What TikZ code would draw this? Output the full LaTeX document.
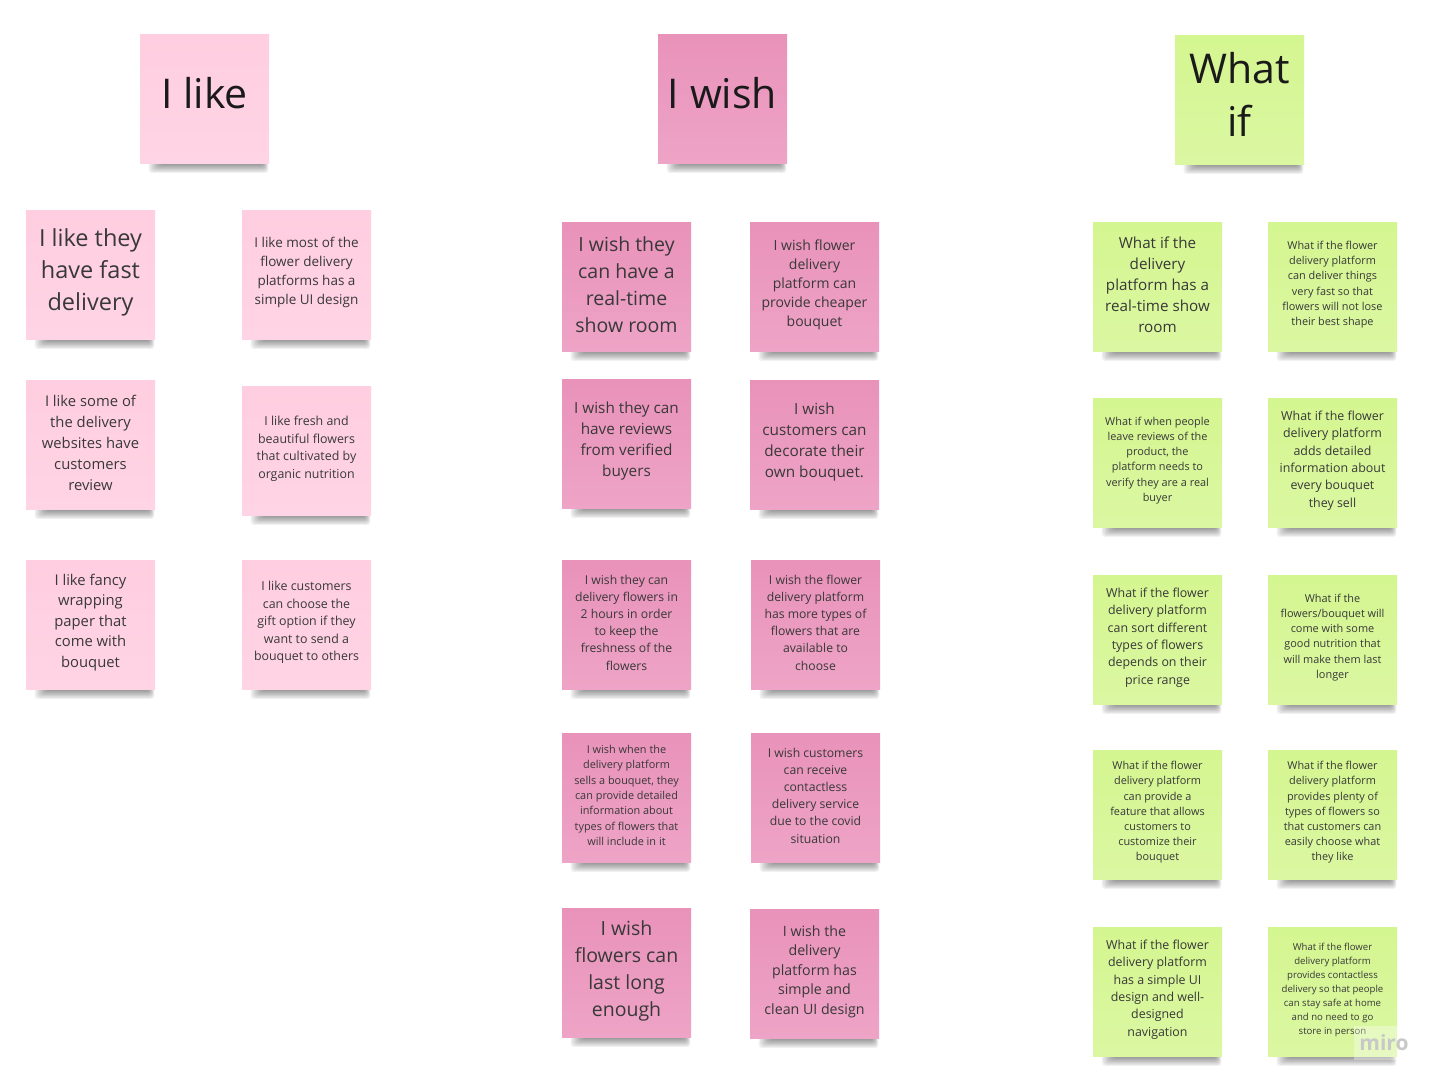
\documentclass[tikz,border=0pt]{standalone}
\usepackage{fontspec}
\setmainfont{Open Sans}

\definecolor{likepink}{HTML}{FFCEE0}
\definecolor{likepinklow}{HTML}{FFD4E4}
\definecolor{wishpink}{HTML}{E992BA}
\definecolor{wishpinklow}{HTML}{EEA4C6}
\definecolor{whatgreen}{HTML}{D4F690}
\definecolor{whatgreenlow}{HTML}{DBF7A2}
\definecolor{inktext}{HTML}{383838}
\definecolor{headink}{HTML}{1A1A1A}
\definecolor{markgray}{HTML}{C8C8C8}

\tikzset{
  sticky/.style={minimum width=129pt, minimum height=129pt, inner sep=0pt, draw=none},
  likenote/.style={sticky, top color=likepink, bottom color=likepinklow},
  wishnote/.style={sticky, top color=wishpink, bottom color=wishpinklow},
  whatnote/.style={sticky, top color=whatgreen, bottom color=whatgreenlow},
  shadowlayer/.style={fill=black, opacity=0.055, rounded corners=3pt},
  stickytext/.style={align=center, text=inktext, inner sep=0pt},
  headtext/.style={align=center, text=headink, inner sep=0pt,
    font=\fontsize{41}{53}\selectfont},
}

% soft curl shadow under the bottom edge of a note at (#1,#2) = top left corner
\newcommand\noteshadow[2]{%
  \foreach \k in {1,...,9}
    \fill[shadowlayer] (#1+7+1.6*\k,#2+118) rectangle (#1+129-0.7*\k,#2+140-1.1*\k);
}

% #1 name, #2 left, #3 top, #4 note style, #5 font size, #6 line skip, #7 text
\newcommand\stickynote[7]{%
  \noteshadow{#2}{#3}
  \node[#4] (#1) at (#2+64.5,#3+64.5) {};
  \node[stickytext, font=\fontsize{#5}{#6}\selectfont] (#1-text)
    at ([yshift=2pt]#1.center) {#7};
}

% #1 name, #2 left, #3 top, #4 note style, #5 text
\newcommand\headnote[5]{%
  \noteshadow{#2}{#3}
  \node[#4] (#1) at (#2+64.5,#3+64.5) {};
  \node[headtext] (#1-text) at ([yshift=5pt]#1.center) {#5};
}

\begin{document}
\begin{tikzpicture}[x=1pt,y=-1pt]
\useasboundingbox[fill=white] (0,0) rectangle (1440,1084);

% column headers
\headnote{hlike}{140}{34}{likenote}{I like}
\headnote{hwish}{658}{34}{wishnote}{I wish}
\headnote{hwhat}{1175}{35}{whatnote}{What\\if}

% I like
\stickynote{like1}{26}{210}{likenote}{23.5}{32}{I like they\\have fast\\delivery}
\stickynote{like2}{242}{210}{likenote}{13.5}{19}{I like most of the\\flower delivery\\platforms has a\\simple UI design}
\stickynote{like3}{26}{380}{likenote}{14.8}{21}{I like some of\\the delivery\\websites have\\customers\\review}
\stickynote{like4}{242}{386}{likenote}{12.4}{17.5}{I like fresh and\\beautiful flowers\\that cultivated by\\organic nutrition}
\stickynote{like5}{26}{560}{likenote}{14.8}{20.5}{I like fancy\\wrapping\\paper that\\come with\\bouquet}
\stickynote{like6}{242}{560}{likenote}{12.4}{17.5}{I like customers\\can choose the\\gift option if they\\want to send a\\bouquet to others}

% I wish
\stickynote{wish1}{562}{222}{wishnote}{19.5}{27}{I wish they\\can have a\\real-time\\show room}
\stickynote{wish2}{750}{222}{wishnote}{14}{19}{I wish flower\\delivery\\platform can\\provide cheaper\\bouquet}
\stickynote{wish3}{562}{379}{wishnote}{15.3}{21}{I wish they can\\have reviews\\from verified\\buyers}
\stickynote{wish4}{750}{380}{wishnote}{15.3}{21}{I wish\\customers can\\decorate their\\own bouquet.}
\stickynote{wish5}{562}{560}{wishnote}{12.2}{17.2}{I wish they can\\delivery flowers in\\2 hours in order\\to keep the\\freshness of the\\flowers}
\stickynote{wish6}{751}{560}{wishnote}{12.2}{17.2}{I wish the flower\\delivery platform\\has more types of\\flowers that are\\available to\\choose}
\stickynote{wish7}{562}{733}{wishnote}{10.9}{15.3}{I wish when the\\delivery platform\\sells a bouquet, they\\can provide detailed\\information about\\types of flowers that\\will include in it}
\stickynote{wish8}{751}{733}{wishnote}{12.2}{17.2}{I wish customers\\can receive\\contactless\\delivery service\\due to the covid\\situation}
\stickynote{wish9}{562}{908}{wishnote}{19.5}{27}{I wish\\flowers can\\last long\\enough}
\stickynote{wish10}{750}{909}{wishnote}{14.2}{19.5}{I wish the\\delivery\\platform has\\simple and\\clean UI design}

% What if
\stickynote{what1}{1093}{222}{whatnote}{15.2}{21}{What if the\\delivery\\platform has a\\real-time show\\room}
\stickynote{what2}{1268}{222}{whatnote}{10.9}{15.3}{What if the flower\\delivery platform\\can deliver things\\very fast so that\\flowers will not lose\\their best shape}
\stickynote{what3}{1093}{398}{whatnote}{10.9}{15.2}{What if when people\\leave reviews of the\\product, the\\platform needs to\\verify they are a real\\buyer}
\stickynote{what4}{1268}{398}{whatnote}{12.4}{17.4}{What if the flower\\delivery platform\\adds detailed\\information about\\every bouquet\\they sell}
\stickynote{what5}{1093}{575}{whatnote}{12.4}{17.4}{What if the flower\\delivery platform\\can sort different\\types of flowers\\depends on their\\price range}
\stickynote{what6}{1268}{575}{whatnote}{10.9}{15.2}{What if the\\flowers/bouquet will\\come with some\\good nutrition that\\will make them last\\longer}
\stickynote{what7}{1093}{750}{whatnote}{10.9}{15.2}{What if the flower\\delivery platform\\can provide a\\feature that allows\\customers to\\customize their\\bouquet}
\stickynote{what8}{1268}{750}{whatnote}{10.9}{15.2}{What if the flower\\delivery platform\\provides plenty of\\types of flowers so\\that customers can\\easily choose what\\they like}
\stickynote{what9}{1093}{927}{whatnote}{12.4}{17.3}{What if the flower\\delivery platform\\has a simple UI\\design and well-\\designed\\navigation}
\stickynote{what10}{1268}{927}{whatnote}{9.6}{14}{What if the flower\\delivery platform\\provides contactless\\delivery so that people\\can stay safe at home\\and no need to go\\store in person}

% board watermark
\fill[white, opacity=0.35] (1354,1026) rectangle (1412,1060);
\node[text=markgray, font=\fontsize{21}{21}\selectfont\bfseries, inner sep=0pt] (mark) at (1384,1043) {miro};
\end{tikzpicture}
\end{document}
